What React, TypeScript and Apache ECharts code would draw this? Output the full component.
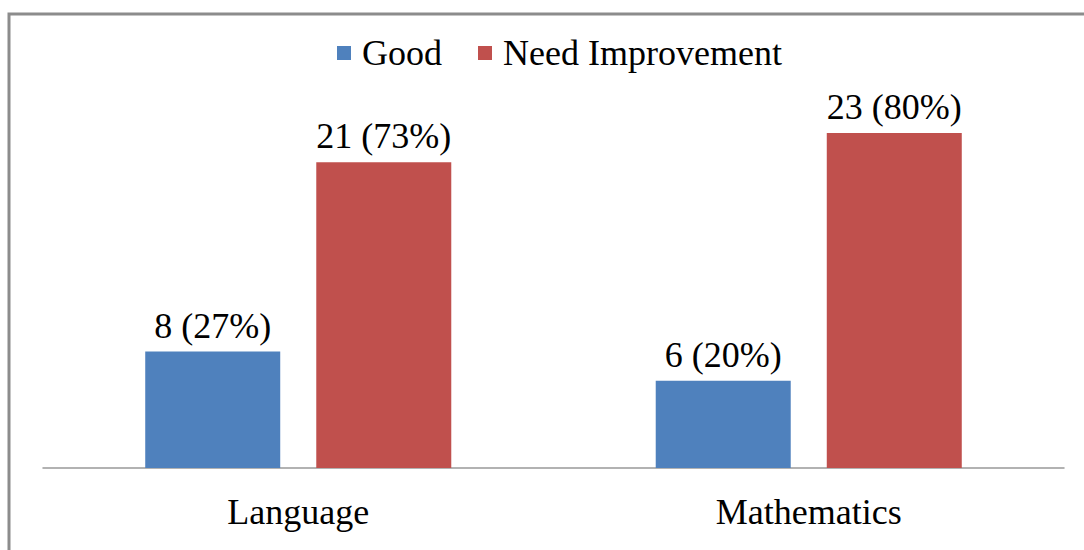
import React, { useEffect, useRef } from "react";
import * as echarts from "echarts";

const categories = ["Language", "Mathematics"];
const goodValues = [8, 6];
const goodPercents = [27, 20];
const needValues = [21, 23];
const needPercents = [73, 80];

const FONT = "Liberation Serif";

export default function App() {
  const ref = useRef<HTMLDivElement>(null);
  useEffect(() => {
    if (!ref.current) return;
    const chart = echarts.init(ref.current, null, { renderer: "svg" });
    const labelFor = (pcts: number[]) => (p: any) => `${p.value} (${pcts[p.dataIndex]}%)`;
    chart.setOption({
      animation: false,
      backgroundColor: "#ffffff",
      textStyle: { fontFamily: FONT },
      graphic: [
        {
          type: "polyline",
          shape: { points: [[9, 550], [9, 14], [1084, 14]] },
          style: { stroke: "#8c8c8c", lineWidth: 3, fill: "none" },
        },
      ],
      legend: {
        left: 332,
        top: 30,
        itemWidth: 14,
        itemHeight: 14,
        itemGap: 36,
        icon: "rect",
        textStyle: { fontFamily: FONT, fontSize: 36, color: "#000", padding: [0, 0, 0, 6] },
        data: ["Good", "Need Improvement"],
      },
      grid: { left: 43, right: 20, top: 104, bottom: 82 },
      xAxis: {
        type: "category",
        data: categories,
        axisLine: { lineStyle: { color: "#999999", width: 1.5 } },
        axisTick: { show: false },
        axisLabel: { fontFamily: FONT, fontSize: 36, color: "#000", margin: 26 },
      },
      yAxis: {
        type: "value",
        min: 0,
        max: 25,
        show: false,
        splitLine: { show: false },
      },
      series: [
        {
          name: "Good",
          type: "bar",
          data: goodValues,
          barWidth: 135,
          barGap: "26.7%",
          itemStyle: { color: "#4F81BD" },
          label: {
            show: true,
            position: "top",
            distance: 8,
            fontFamily: FONT,
            fontSize: 36,
            color: "#000",
            formatter: labelFor(goodPercents),
          },
        },
        {
          name: "Need Improvement",
          type: "bar",
          data: needValues,
          barWidth: 135,
          barGap: "26.7%",
          itemStyle: { color: "#C0504D" },
          label: {
            show: true,
            position: "top",
            distance: 8,
            fontFamily: FONT,
            fontSize: 36,
            color: "#000",
            formatter: labelFor(needPercents),
          },
        },
      ],
    });
    return () => chart.dispose();
  }, []);
  return (
    <div
      ref={ref}
      style={{ position: "fixed", left: 0, top: 0, width: 1084, height: 550 }}
    />
  );
}
